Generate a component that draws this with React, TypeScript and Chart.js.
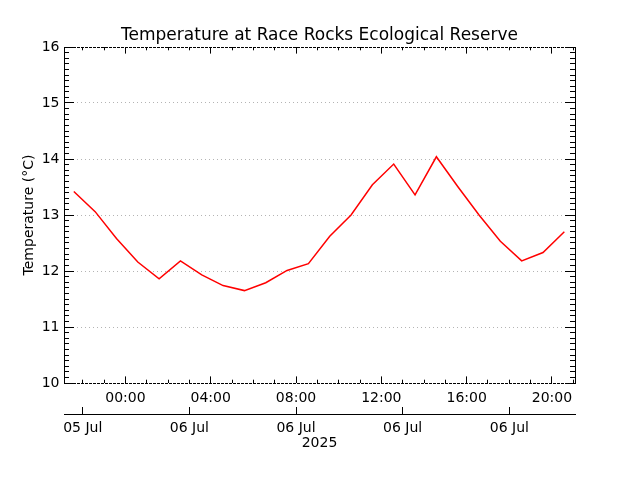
import React, { useEffect, useRef } from 'react';
import { Chart, registerables } from 'chart.js';

Chart.register(...registerables);

// ---- data (hours relative to 06 Jul 2025 00:00) ----
const HOURS = [-2.42, -1.42, -0.42, 0.58, 1.58, 2.58, 3.58, 4.58, 5.58, 6.58, 7.58, 8.58,
  9.58, 10.58, 11.58, 12.58, 13.58, 14.58, 15.58, 16.58, 17.58, 18.58, 19.58, 20.58];
const TEMPS = [13.42, 13.06, 12.58, 12.16, 11.86, 12.18, 11.93, 11.74, 11.65, 11.79, 12.01, 12.13,
  12.62, 13.0, 13.54, 13.91, 13.36, 14.04, 13.51, 13.0, 12.53, 12.18, 12.33, 12.7];

const TITLE = 'Temperature at Race Rocks Ecological Reserve';
const Y_TITLE = 'Temperature (°C)';
const YEAR_LABEL = '2025';

const X_MIN = -2.88;
const X_MAX = 21.08;
const Y_MIN = 10;
const Y_MAX = 16;

const TIME_TICKS = [0, 4, 8, 12, 16, 20];
const TIME_LABELS = ['00:00', '04:00', '08:00', '12:00', '16:00', '20:00'];
const DATE_TICKS = [-2, 3, 8, 13, 18];
const DATE_LABELS = ['05 Jul', '06 Jul', '06 Jul', '06 Jul', '06 Jul'];
const HOUR_TICKS = [-2, -1, 0, 1, 2, 3, 4, 5, 6, 7, 8, 9, 10, 11, 12, 13, 14, 15, 16, 17, 18, 19, 20, 21];
const Y_TICKS = [10, 11, 12, 13, 14, 15, 16];
const Y_LABELS = ['10', '11', '12', '13', '14', '15', '16'];
const Y_MINOR_STEP = 0.1;

const Y_MINOR_TICKS: number[] = [];
for (let k = 0; k <= Math.round((Y_MAX - Y_MIN) / Y_MINOR_STEP); k++) {
  Y_MINOR_TICKS.push(Math.round((Y_MIN + k * Y_MINOR_STEP) * 10) / 10);
}

const FONT = 'DejaVu Sans';
const BLACK = '#000000';

const setTicks = (vals: number[]) => (scale: any) => {
  scale.ticks = vals.map((v) => ({ value: v }));
};

const isEdge = (c: any) => c && c.tick && (c.tick.value === Y_MIN || c.tick.value === Y_MAX);

const tickOnly = (axis: 'x' | 'y', position: any, vals: number[], len: number, border = false) => ({
  type: 'linear',
  axis,
  position,
  min: axis === 'x' ? X_MIN : Y_MIN,
  max: axis === 'x' ? X_MAX : Y_MAX,
  afterBuildTicks: setTicks(vals),
  ticks: { display: false, autoSkip: false },
  grid: { drawOnChartArea: false, tickLength: len, tickColor: BLACK, tickWidth: 1, lineWidth: 1 },
  border: { display: border, color: BLACK, width: 1 },
});

export default function App() {
  const ref = useRef<HTMLCanvasElement>(null);

  useEffect(() => {
    if (!ref.current) return;
    Chart.defaults.font.family = FONT;
    Chart.defaults.font.size = 14;
    Chart.defaults.color = BLACK;

    const chart = new Chart(ref.current, {
      type: 'line',
      data: {
        datasets: [
          {
            data: HOURS.map((h, i) => ({ x: h, y: TEMPS[i] })),
            borderColor: '#ff0000',
            borderWidth: 1.5,
            pointRadius: 0,
            tension: 0,
            fill: false,
            xAxisID: 'x',
            yAxisID: 'y',
          },
        ],
      },
      options: {
        animation: false,
        responsive: false,
        devicePixelRatio: 1,
        layout: { padding: { left: 0, right: 65, top: 0, bottom: 0 } },
        plugins: {
          legend: { display: false },
          tooltip: { enabled: false },
          title: {
            display: true,
            fullSize: false,
            text: TITLE,
            color: BLACK,
            font: { family: FONT, size: 17, weight: 'normal' },
            padding: { top: 25.4, bottom: 1.2 },
          },
        },
        scales: {
          x: {
            type: 'linear',
            position: 'bottom',
            weight: 0,
            min: X_MIN,
            max: X_MAX,
            afterBuildTicks: setTicks(TIME_TICKS),
            ticks: {
              callback: (_v: any, i: number) => TIME_LABELS[i],
              padding: 13.2,
              color: BLACK,
              autoSkip: false,
              maxRotation: 0,
              font: { family: FONT, size: 14 },
            },
            grid: { drawOnChartArea: false, tickLength: -6.6, tickColor: BLACK, tickWidth: 1 },
            border: { display: false },
            afterFit: (s: any) => { s.height = 31; },
          },
          xDate: {
            type: 'linear',
            axis: 'x',
            position: 'bottom',
            weight: 1,
            min: X_MIN,
            max: X_MAX,
            afterBuildTicks: setTicks(DATE_TICKS),
            ticks: {
              callback: (_v: any, i: number) => DATE_LABELS[i],
              padding: 13.1,
              color: BLACK,
              autoSkip: false,
              maxRotation: 0,
              font: { family: FONT, size: 14 },
            },
            grid: { drawOnChartArea: false, tickLength: -7, tickColor: BLACK, tickWidth: 1 },
            border: { display: true, color: BLACK, width: 1 },
            title: {
              display: true,
              text: YEAR_LABEL,
              color: BLACK,
              font: { family: FONT, size: 14 },
              padding: { top: 0, bottom: 28.6 },
            },
            afterFit: (s: any) => { s.height = 66; },
          },
          y: {
            type: 'linear',
            position: 'left',
            min: Y_MIN,
            max: Y_MAX,
            afterBuildTicks: setTicks(Y_TICKS),
            ticks: {
              callback: (_v: any, i: number) => Y_LABELS[i],
              padding: 14.5,
              color: BLACK,
              font: { family: FONT, size: 14 },
            },
            grid: {
              color: (c: any) => (isEdge(c) ? BLACK : '#b4b4b4'),
              lineWidth: 1,
              tickLength: -10,
              tickColor: BLACK,
              tickWidth: 1,
            },
            border: {
              display: true,
              color: BLACK,
              width: 1,
              dash: (c: any) => (isEdge(c) ? [3, 1] : [1, 3]),
            },
            title: {
              display: true,
              text: Y_TITLE,
              color: BLACK,
              font: { family: FONT, size: 14 },
              padding: { top: 21, bottom: 0 },
            },
            afterFit: (s: any) => { s.width = 64; },
          },
          yMinorL: tickOnly('y', { x: X_MIN }, Y_MINOR_TICKS, -5),
          yR: tickOnly('y', { x: X_MAX }, Y_TICKS, 10, true),
          yMinorR: tickOnly('y', { x: X_MAX }, Y_MINOR_TICKS, 5),
          xMinorB: tickOnly('x', { y: Y_MIN }, HOUR_TICKS, -3.3),
          xT: tickOnly('x', { y: Y_MAX }, TIME_TICKS, 6.6),
          xMinorT: tickOnly('x', { y: Y_MAX }, HOUR_TICKS, 3.3),
        } as any,
      },
    } as any);

    return () => chart.destroy();
  }, []);

  return (
    <div style={{ position: 'absolute', left: 0, top: 0, width: 640, height: 480, background: '#ffffff' }}>
      <canvas ref={ref} width={640} height={480} style={{ display: 'block', width: 640, height: 480 }} />
    </div>
  );
}
